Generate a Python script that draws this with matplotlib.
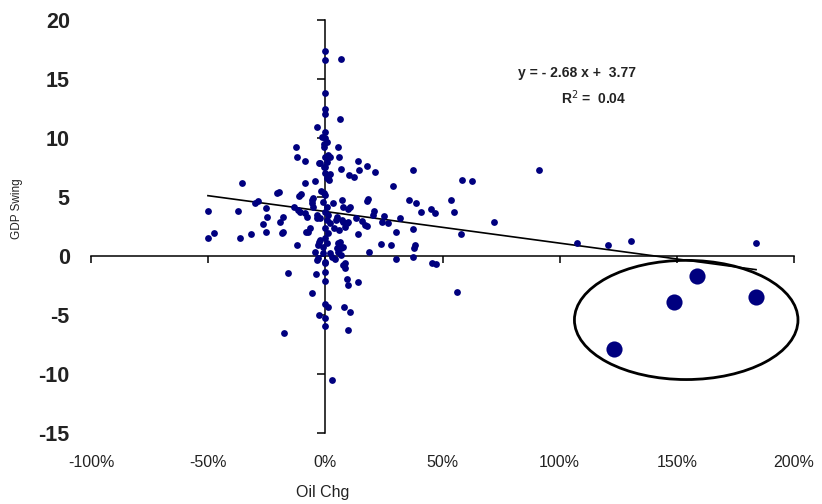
import matplotlib
matplotlib.use("Agg")
import matplotlib.pyplot as plt
from matplotlib.patches import Ellipse

# ---- data (Oil change in %, GDP swing) ----
oil_chg = [
    0, 0, 6.6, 0, 0, 0, 6.2, -3.5, 0, -1.6, 0, 0.6, -0.6, -12.4, 5.2, -12.1, -8.8,
    0, 2.0, 0.6, -0.6, 5.9, -2.9, 14.0, 17.8, 14.2, 6.6, 21.4, 37.3, 10.2, 12.3,
    0, 2.0, 0.6, 1.7, -4.6, -8.7, 28.9, 58.3, 62.7, -35.7, -20.7, -19.9, -11.2,
    -10.4, -1.9, -0.6, -5.4, 18.0, 17.8, 35.6, 38.9, 53.8, 7.2, 3.1, -28.7, -30.0,
    -25.3, -50.1, -37.4, -13.2, -5.8, 9.5, 10.5, 20.8, 40.9, 44.9, 47.0, 54.8,
    -25.0, -17.9, -19.3, -10.8, -8.6, -8.0, -3.5, 4.6, 7.6, 9.8, 15.5, 17.0, 17.6,
    25.1, 24.0, 26.8, 31.8, -26.5, -25.4, -18.2, -18.6, -8.3, -6.6, 3.7, 5.9, 8.3,
    14.0, 30.1, 37.4, 57.8, -50.1, -47.3, -36.4, -31.8, -12.2, -2.6, 6.2, 7.6, 6.6,
    18.7, 23.7, 28.1, 38.3, 37.9, -4.4, -3.7, 0, 2.7, 6.6, 7.4, 8.6, 30.1, 37.4,
    45.5, 47.4, -16.1, -4.1, 0, 0, 9.1, 9.5, 14.0, 56.2, -5.6, 0, 1.2, 7.9, 10.4,
    -2.7, 0, 0, -17.6, 9.5, 2.7, 91.1, 72.1, 107.5, 120.5, 130.6, 183.7,
    -0.5, -2.3, 1.2, 0, 1.2, 0, -0.9, 0.6, -5.8, -5.2, 7.6, -11.5, -3.7, -2.3, 0,
    1.2, 0.6, 2.0, 4.8, 7.0, 9.1, 13.3, -7.3, 0, 1.2, 0, -2.3, -3.0, -0.9, 0.6,
    5.5, 4.8, -0.9, 2.0, -3.0, 0, 4.1, 8.4, 20.2, 5.5,
]
gdp_swing = [
    17.4, 16.6, 16.7, 13.8, 12.45, 12.0, 11.6, 10.9, 10.5, 10.1, 9.97, 9.7, 9.26,
    9.26, 9.26, 8.4, 8.07, 8.4, 8.4, 8.0, 7.56, 8.4, 7.85, 8.07, 7.6, 7.3, 7.37,
    7.14, 7.26, 6.9, 6.7, 7.0, 6.95, 6.6, 6.4, 6.35, 6.16, 5.95, 6.44, 6.35, 6.16,
    5.36, 5.45, 5.08, 5.23, 5.53, 5.36, 4.94, 4.85, 4.68, 4.74, 4.46, 4.74, 4.72,
    4.46, 4.68, 4.46, 4.09, 3.84, 3.84, 4.18, 4.46, 3.98, 4.12, 3.84, 3.75, 3.96,
    3.67, 3.75, 3.33, 3.33, 2.9, 3.75, 3.62, 3.28, 3.22, 3.05, 2.9, 2.9, 2.99,
    2.63, 2.54, 3.41, 2.9, 2.82, 3.24, 2.69, 2.03, 2.06, 1.92, 2.06, 2.35, 2.35,
    2.2, 2.48, 1.86, 2.06, 2.26, 1.86, 1.55, 1.97, 1.55, 1.84, 0.93, 1.21, 1.21,
    0.79, 0.65, 0.36, 1.02, 0.93, 0.93, 0.65, 0.36, -0.34, -0.62, -0.06, 0.08,
    -0.76, -1.04, -0.25, -0.11, -0.57, -0.7, -1.47, -1.55, -1.33, -2.09, -1.97,
    -2.46, -2.18, -3.07, -3.16, -4.09, -4.29, -4.29, -4.77, -5.0, -5.23, -5.93,
    -6.5, -6.29, -10.5, 7.26, 2.85, 1.13, 0.93, 1.25, 1.13,
    9.5, 7.9, 8.55, 7.56, 6.7, 5.17, 4.6, 4.18, 4.74, 4.18, 4.18, 3.9, 3.47, 3.19,
    3.75, 3.47, 3.05, 2.77, 3.33, 3.05, 2.77, 3.19, 2.06, 2.35, 1.92, 1.5, 1.36,
    0.93, 0.79, 1.08, 1.08, 0.65, 0.23, 0.23, -0.19, -0.48, -0.28, -0.62, 3.47, 0.36,
]
# highlighted recent observations
big_oil = [158.8, 148.7, 183.8, 123.1]
big_gdp = [-1.7, -3.87, -3.5, -7.9]

slope, intercept, r2 = -2.68, 3.77, 0.04

x_ticks = [-100, -50, 0, 50, 100, 150, 200]
x_labels = ["-100%", "-50%", "0%", "50%", "100%", "150%", "200%"]
y_ticks = [-15, -10, -5, 0, 5, 10, 15, 20]
y_labels = ["-15", "-10", "-5", "0", "5", "10", "15", "20"]

navy = "#00007f"
txt = "#222222"

fig = plt.figure(figsize=(8.22, 5.04), dpi=100)
ax = fig.add_axes([91 / 822, 1 - 433 / 504, (794 - 91) / 822, (433 - 20) / 504])

ax.scatter(oil_chg, gdp_swing, s=24, color=navy, linewidths=0, zorder=3)
ax.scatter(big_oil, big_gdp, s=135, color=navy, linewidths=0, zorder=3)

all_x = oil_chg + big_oil
xmin, xmax = min(all_x), max(all_x)
ax.plot([xmin, xmax], [slope * xmin / 100 + intercept, slope * xmax / 100 + intercept],
        color="black", lw=1.2, zorder=2)

ax.add_patch(Ellipse((154, -5.42), 95.4, 10.1, fill=False, edgecolor="black",
                     lw=2.0, zorder=2, clip_on=False))

ax.set_xlim(-100, 200)
ax.set_ylim(-15, 20)
for s in ("top", "right"):
    ax.spines[s].set_visible(False)
ax.spines["left"].set_position(("data", 0))
ax.spines["bottom"].set_position(("data", 0))
ax.spines["left"].set_linewidth(1.1)
ax.spines["bottom"].set_linewidth(1.1)

ax.set_xticks(x_ticks)
ax.set_xticklabels(x_labels, family=["Liberation Sans", "DejaVu Sans"], fontsize=11.5, color=txt)
ax.set_yticks(y_ticks)
ax.set_yticklabels(y_labels, family=["Liberation Sans", "DejaVu Sans"], fontsize=15.5,
                   fontweight="bold", color=txt)
ax.tick_params(axis="y", direction="out", length=6, width=1.1, pad=178)
ax.tick_params(axis="x", direction="out", length=5, width=1.1, pad=138)

fig.text(323 / 822, 1 - 493 / 504, "Oil Chg", ha="center", va="center",
         family=["Liberation Sans", "DejaVu Sans"], fontsize=11.5, color=txt)
fig.text(17 / 822, 1 - 209 / 504, "GDP Swing", ha="center", va="center", rotation=90,
         family=["Liberation Sans", "DejaVu Sans"], fontsize=8.5, color=txt)

fig.text(577 / 822, 1 - 73 / 504, "y = - 2.68 x +  3.77", ha="center", va="center",
         family=["Liberation Sans", "DejaVu Sans"], fontsize=10, fontweight="bold", color=txt)
fig.text(594 / 822, 1 - 98 / 504, "R$^2$ =  0.04", ha="center", va="center",
         family=["Liberation Sans", "DejaVu Sans"], fontsize=10, fontweight="bold", color=txt)

fig.savefig("out.png", dpi=100)
